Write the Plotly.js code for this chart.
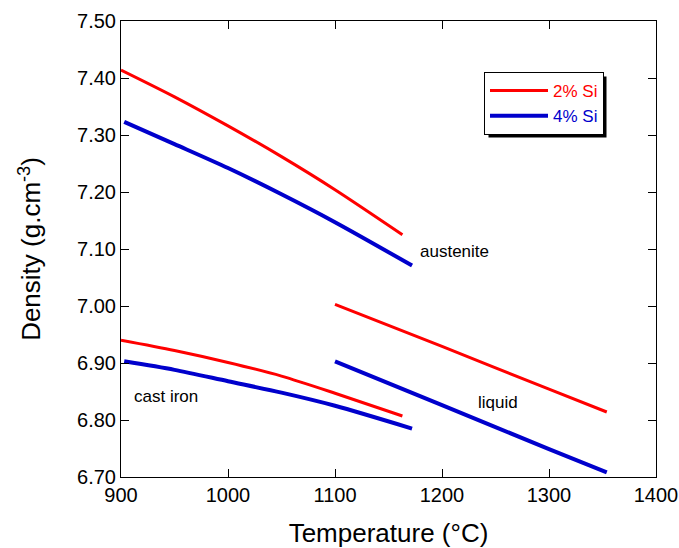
<!DOCTYPE html>
<html>
<head>
<meta charset="utf-8">
<script src="https://cdn.plot.ly/plotly-3.0.1.min.js"></script>
<style>html,body{margin:0;padding:0;background:#fff;}#chart{width:679px;height:548px;}</style>
</head>
<body>
<div id="chart"></div>
<script>
// Austenite
const austT2 = [900, 950, 1000, 1050, 1100, 1163];
const austD2 = [7.414, 7.367, 7.316, 7.262, 7.204, 7.125];
const austT4 = [903, 950, 1000, 1050, 1100, 1172];
const austD4 = [7.323, 7.284, 7.242, 7.196, 7.147, 7.071];
// Cast iron
const castT2 = [900, 950, 1000, 1050, 1100, 1163];
const castD2 = [6.940, 6.922, 6.901, 6.877, 6.847, 6.807];
const castT4 = [903, 950, 1000, 1050, 1100, 1172];
const castD4 = [6.903, 6.888, 6.868, 6.848, 6.825, 6.785];
// Liquid
const liqT2 = [1100, 1200, 1300, 1354];
const liqD2 = [7.003, 6.929, 6.854, 6.814];
const liqT4 = [1100, 1200, 1300, 1354];
const liqD4 = [6.903, 6.826, 6.749, 6.708];

const xTicks = [900, 1000, 1100, 1200, 1300, 1400];
const yTicks = [6.70, 6.80, 6.90, 7.00, 7.10, 7.20, 7.30, 7.40, 7.50];
const yTickText = yTicks.map(v => v.toFixed(2));

const RED = '#ff0000', BLUE = '#0000cc';
const FONT = 'Liberation Sans, Arial, sans-serif';

function tr(x, y, color, width, name, show) {
  return {x: x, y: y, type: 'scatter', mode: 'lines', name: name, showlegend: show,
    legendgroup: name, line: {color: color, width: width, shape: 'spline', smoothing: 0.8},
    hoverinfo: 'skip'};
}

const data = [
  tr(austT2, austD2, RED, 3, '2% Si', true),
  tr(austT4, austD4, BLUE, 4, '4% Si', true),
  tr(castT2, castD2, RED, 3, '2% Si', false),
  tr(castT4, castD4, BLUE, 4, '4% Si', false),
  tr(liqT2, liqD2, RED, 3, '2% Si', false),
  tr(liqT4, liqD4, BLUE, 4, '4% Si', false)
];

// paper coordinates helpers (plot area: l=121, r=656, t=21, b=477)
const px = v => (v - 121) / 535;
const py = v => (477 - v) / 456;

const layout = {
  width: 679, height: 548,
  margin: {l: 121, r: 23, t: 21, b: 71},
  paper_bgcolor: '#fff', plot_bgcolor: '#fff',
  font: {family: FONT, color: '#000'},
  showlegend: true,
  legend: {
    x: px(484), y: py(72), xanchor: 'left', yanchor: 'top',
    bgcolor: '#fff', bordercolor: '#000', borderwidth: 1,
    font: {family: FONT, size: 17}, itemwidth: 58,
    tracegroupgap: 0
  },
  xaxis: {
    range: [900, 1400], tickvals: xTicks, ticktext: xTicks.map(String),
    ticks: 'inside', ticklen: 8, tickcolor: '#000', tickwidth: 1,
    showline: true, linecolor: '#000', linewidth: 1, mirror: 'ticks',
    showgrid: false, zeroline: false,
    tickfont: {family: FONT, size: 20, color: '#000'},
    title: {text: 'Temperature (°C)', font: {family: FONT, size: 26, color: '#000'}, standoff: 20}
  },
  yaxis: {
    range: [6.70, 7.50], tickvals: yTicks, ticktext: yTickText,
    ticks: 'inside', ticklen: 8, tickcolor: '#000', tickwidth: 1,
    showline: true, linecolor: '#000', linewidth: 1, mirror: 'ticks',
    showgrid: false, zeroline: false,
    tickfont: {family: FONT, size: 20, color: '#000'},
    title: {text: 'Density (g.cm<sup>-3</sup>)', font: {family: FONT, size: 26, color: '#000'}, standoff: 28}
  },
  shapes: [],
  annotations: [
    {text: 'austenite', x: 1178, y: 7.0965, xref: 'x', yref: 'y', showarrow: false, xanchor: 'left',
     font: {family: FONT, size: 17, color: '#000'}},
    {text: 'cast iron', x: 910, y: 6.842, xref: 'x', yref: 'y', showarrow: false, xanchor: 'left',
     font: {family: FONT, size: 17, color: '#000'}},
    {text: 'liquid', x: 1232, y: 6.830, xref: 'x', yref: 'y', showarrow: false, xanchor: 'left',
     font: {family: FONT, size: 17, color: '#000'}}
  ]
};

const gd = document.getElementById('chart');
Plotly.newPlot(gd, data, layout, {displayModeBar: false, staticPlot: true}).then(() => {
  // drop shadow behind the legend box
  const bg = gd.querySelector('.legend .bg');
  const box = gd.getBoundingClientRect();
  if (bg) {
    const r = bg.getBoundingClientRect();
    const l = r.left - box.left, t = r.top - box.top, w = r.width, h = r.height;
    return Plotly.relayout(gd, {shapes: [{type: 'rect', xref: 'paper', yref: 'paper',
      x0: px(l + 4), x1: px(l + w + 3), y0: py(t + h + 3), y1: py(t + 4),
      fillcolor: '#000', line: {width: 0}, layer: 'above'}]});
  }
}).then(() => {
  const texts = gd.querySelectorAll('.legend .legendtext');
  const cols = [RED, BLUE];
  texts.forEach((t, i) => { t.style.fill = cols[i % 2]; });
});
</script>
</body>
</html>
